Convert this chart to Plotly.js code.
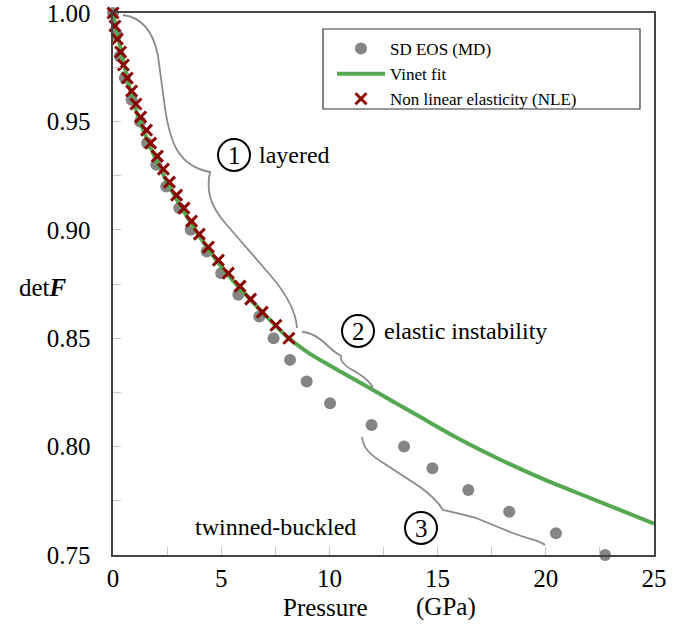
<!DOCTYPE html>
<html>
<head>
<meta charset="utf-8">
<script src="https://cdn.plot.ly/plotly-3.0.1.min.js"></script>
<style>html,body{margin:0;padding:0;background:#fff;}#chart{width:679px;height:636px;}</style>
</head>
<body>
<div id="chart"></div>
<script>
// ---- data ----
const mdP   = [0, 0.17, 0.32, 0.55, 0.86, 1.25, 1.58, 2.0, 2.46, 3.06, 3.59, 4.33, 5.0, 5.79, 6.76, 7.42, 8.18, 8.95, 10.03, 11.95, 13.45, 14.76, 16.42, 18.31, 20.47, 22.74];
const mdDet = [1.00, 0.99, 0.98, 0.97, 0.96, 0.95, 0.94, 0.93, 0.92, 0.91, 0.90, 0.89, 0.88, 0.87, 0.86, 0.85, 0.84, 0.83, 0.82, 0.81, 0.80, 0.79, 0.78, 0.77, 0.76, 0.75];

const vinetP   = [0, 1, 2, 3, 4, 5, 6, 7, 8, 9, 10, 12, 14, 16, 18, 20, 22, 25];
const vinetDet = [1.0, 0.957, 0.932, 0.913, 0.897, 0.883, 0.8715, 0.861, 0.851, 0.8435, 0.8375, 0.8262, 0.8148, 0.8035, 0.7935, 0.7845, 0.7765, 0.7645];

const nleP   = [0, 0.09, 0.2, 0.35, 0.48, 0.66, 0.86, 1.06, 1.28, 1.55, 1.74, 2.05, 2.33, 2.61, 2.94, 3.28, 3.63, 3.99, 4.41, 4.87, 5.33, 5.87, 6.36, 6.90, 7.53, 8.13];
const nleDet = [1.0, 0.994, 0.988, 0.982, 0.976, 0.970, 0.964, 0.958, 0.952, 0.946, 0.940, 0.934, 0.928, 0.922, 0.916, 0.910, 0.904, 0.898, 0.892, 0.886, 0.880, 0.874, 0.868, 0.862, 0.856, 0.850];

const xTickVals = [0, 5, 10, 15, 20, 25];
const xTickText = ['0', '5', '10', '15', '20', '25'];
const yTickVals = [0.75, 0.80, 0.85, 0.90, 0.95, 1.00];
const yTickText = ['0.75', '0.80', '0.85', '0.90', '0.95', '1.00'];

const seriesNames = ['SD EOS (MD)', 'Vinet fit', 'Non linear elasticity (NLE)'];

// ---- layout helpers (pixel -> data for decorations) ----
const L = 113, T = 13, W = 541, H = 542;
const px2x = p => (p - L) / W * 25;
const py2y = p => 1 - (p - T) / H * 0.25;
const px2p = p => (p - L) / W;          // pixel -> paper x
const py2p = p => (T + H - p) / H;      // pixel -> paper y
function path(pts) {
  return pts.map(c => c[0] + ' ' + c.slice(1).reduce((a, v, i) => {
    if (i % 2 === 0) a.push(px2x(v).toFixed(4)); else a[a.length - 1] += ',' + py2y(v).toFixed(5);
    return a;
  }, []).join(' ')).join(' ');
}

const FONT = '"Liberation Serif", "DejaVu Serif", serif';
const braceStyle = {color: '#8a8a8a', width: 1.8};

const brace1 = path([
  ['M', 123, 15], ['C', 140, 17, 153, 30, 158, 56], ['L', 165, 108],
  ['C', 170, 142, 178, 166, 210, 172],
  ['C', 206, 190, 210, 206, 226, 224], ['L', 271, 276],
  ['C', 288, 296, 296, 312, 297, 328]
]);
const brace2 = path([
  ['M', 302, 332], ['C', 313, 332, 322, 340, 329, 347],
  ['C', 334, 352, 338, 354, 341, 356],
  ['C', 340, 362, 346, 367, 356, 372],
  ['C', 366, 378, 372, 384, 373, 389]
]);
const brace3 = path([
  ['M', 362, 437], ['C', 363, 448, 370, 455, 385, 464], ['L', 420, 487],
  ['C', 434, 497, 440, 505, 443, 510],
  ['C', 452, 512, 462, 514, 476, 518], ['L', 510, 532],
  ['C', 530, 540, 540, 540, 545, 545]
]);

function circle(cx, cy) {
  return {type: 'circle', xref: 'x', yref: 'y', xsizemode: 'pixel', ysizemode: 'pixel',
    xanchor: px2x(cx), yanchor: py2y(cy), x0: -16, x1: 16, y0: -16, y1: 16,
    line: {color: '#000', width: 2}, fillcolor: 'rgba(0,0,0,0)', layer: 'above'};
}

const traces = [
  {x: mdP, y: mdDet, name: seriesNames[0], mode: 'markers', type: 'scatter', cliponaxis: false,
   marker: {color: '#858585', size: 12, symbol: 'circle'}},
  {x: vinetP, y: vinetDet, name: seriesNames[1], mode: 'lines', type: 'scatter', cliponaxis: false,
   line: {color: '#55a852', width: 4, shape: 'spline', smoothing: 0.8}},
  {x: nleP, y: nleDet, name: seriesNames[2], mode: 'markers', type: 'scatter', cliponaxis: false,
   marker: {color: '#8b0000', size: 11, symbol: 'x-thin', line: {color: '#8b0000', width: 3}}}
];

const bigFont = {family: FONT, size: 25, color: '#000'};
const annFont = {family: FONT, size: 24, color: '#000'};
const layout = {
  width: 679, height: 636,
  margin: {l: L, r: 679 - L - W, t: T, b: 636 - T - H},
  paper_bgcolor: '#fff', plot_bgcolor: '#fff',
  font: {family: FONT, color: '#000'},
  showlegend: true,
  legend: {x: px2p(332), y: py2p(31), xanchor: 'left', yanchor: 'top',
    bgcolor: 'rgba(0,0,0,0)', borderwidth: 0, itemwidth: 48,
    font: {family: FONT, size: 17, color: '#000'}},
  xaxis: {range: [0, 25], showgrid: false, zeroline: false, showline: true, mirror: true,
    linecolor: '#444', linewidth: 1.6, ticks: 'inside', ticklen: 8, tickcolor: '#c8c8c8', tickwidth: 1,
    tickvals: xTickVals, ticktext: xTickText, ticklabelstandoff: 0, ticklabeloverflow: 'allow',
    tickfont: bigFont,
    minor: {dtick: 2.5, tick0: 0, ticks: 'inside', ticklen: 8, tickcolor: '#c8c8c8', tickwidth: 1, showgrid: false}},
  yaxis: {range: [0.75, 1.0], showgrid: false, zeroline: false, showline: true, mirror: true,
    linecolor: '#444', linewidth: 1.6, ticks: 'inside', ticklen: 8, tickcolor: '#c8c8c8', tickwidth: 1,
    tickvals: yTickVals, ticktext: yTickText, ticklabelstandoff: 16, ticklabeloverflow: 'allow',
    tickfont: bigFont,
    minor: {dtick: 0.025, tick0: 0.75, ticks: 'inside', ticklen: 8, tickcolor: '#c8c8c8', tickwidth: 1, showgrid: false}},
  shapes: [
    {type: 'rect', xref: 'paper', yref: 'paper', x0: px2p(323), x1: px2p(640), y0: py2p(109), y1: py2p(29),
     line: {color: '#333', width: 1.2}, fillcolor: '#fff', layer: 'above'},
    {type: 'path', xref: 'x', yref: 'y', path: brace1, line: braceStyle, layer: 'above'},
    {type: 'path', xref: 'x', yref: 'y', path: brace2, line: braceStyle, layer: 'above'},
    {type: 'path', xref: 'x', yref: 'y', path: brace3, line: braceStyle, layer: 'above'},
    circle(234, 155), circle(358, 331), circle(421, 528)
  ],
  annotations: [
    {xref: 'x', yref: 'y', x: px2x(234), y: py2y(155), text: '1', showarrow: false, xanchor: 'center', yanchor: 'middle', font: bigFont},
    {xref: 'x', yref: 'y', x: px2x(358), y: py2y(331), text: '2', showarrow: false, xanchor: 'center', yanchor: 'middle', font: bigFont},
    {xref: 'x', yref: 'y', x: px2x(421), y: py2y(528), text: '3', showarrow: false, xanchor: 'center', yanchor: 'middle', font: bigFont},
    {xref: 'x', yref: 'y', x: px2x(257), y: py2y(155), text: 'layered', xanchor: 'left', yanchor: 'middle', showarrow: false, font: annFont},
    {xref: 'x', yref: 'y', x: px2x(382), y: py2y(331), text: 'elastic instability', xanchor: 'left', yanchor: 'middle', showarrow: false, font: annFont},
    {xref: 'x', yref: 'y', x: px2x(275), y: py2y(527), text: 'twinned-buckled', xanchor: 'center', yanchor: 'middle', showarrow: false, font: annFont},
    {xref: 'paper', yref: 'paper', x: px2p(325), y: py2p(607), text: 'Pressure', xanchor: 'center', yanchor: 'middle', showarrow: false, font: bigFont},
    {xref: 'paper', yref: 'paper', x: px2p(446), y: py2p(607), text: '(GPa)', xanchor: 'center', yanchor: 'middle', showarrow: false, font: bigFont},
    {xref: 'paper', yref: 'paper', x: px2p(43), y: py2p(287), text: 'det<b><i>F</i></b>', xanchor: 'center', yanchor: 'middle', showarrow: false, font: bigFont}
  ]
};

Plotly.newPlot('chart', traces, layout, {displayModeBar: false, staticPlot: true});
</script>
</body>
</html>
